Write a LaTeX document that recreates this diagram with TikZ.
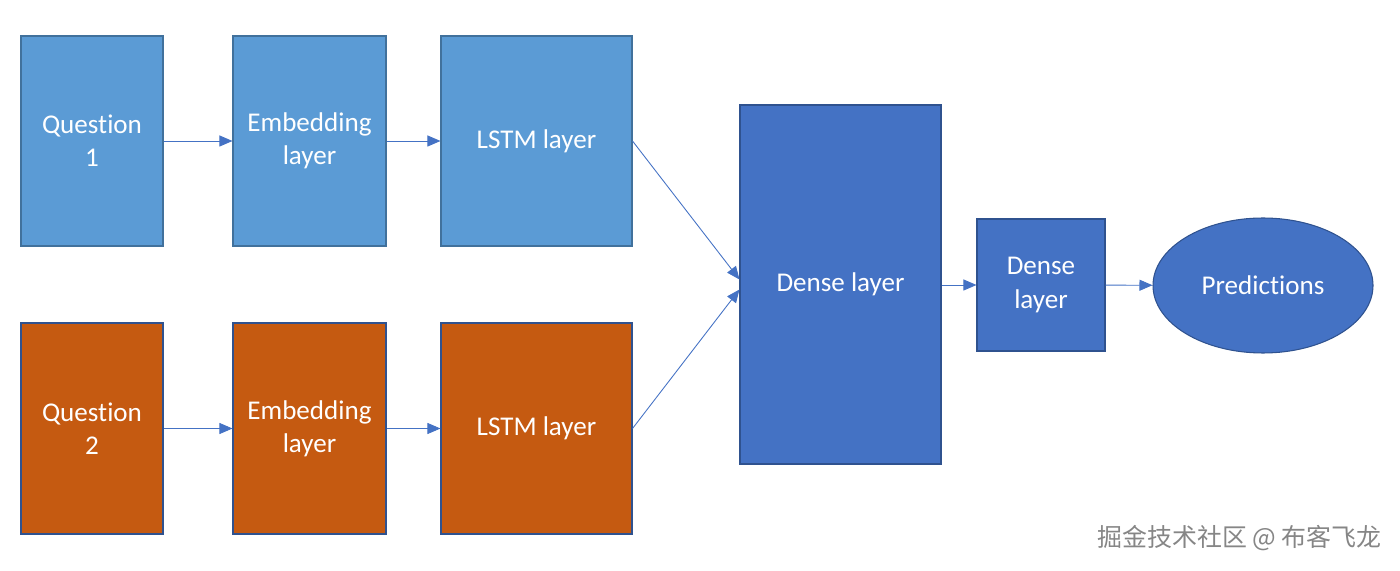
\documentclass[tikz,border=0pt]{standalone}
\usepackage{fontspec}
\setmainfont[Ligatures={NoCommon}]{Carlito}
\newfontfamily\cjk{Noto Sans CJK SC}
\usetikzlibrary{arrows.meta,shapes.geometric}

\definecolor{qblue}{HTML}{5B9BD5}
\definecolor{qorange}{HTML}{C55A11}
\definecolor{dblue}{HTML}{4472C4}
\definecolor{edgeblue}{HTML}{41719C}
\definecolor{edgedark}{HTML}{2F528F}

\tikzset{
  layer/.style={draw=edgeblue, line width=0.6pt, text=white, align=center,
    inner sep=0pt, font=\fontsize{15.4}{19}\selectfont},
  upper/.style={layer, fill=qblue},
  lower/.style={layer, fill=qorange, draw=edgedark},
  dense/.style={layer, fill=dblue, draw=edgedark},
  flow/.style={draw=dblue, line width=0.5pt, -{Triangle[length=2.6mm,width=2.2mm]}},
}

\begin{document}
\begin{tikzpicture}
  \useasboundingbox (0,0) rectangle (28,11.4);
  % question 1 branch
  \node[upper, minimum width=2.84cm, minimum height=4.2cm] (q1) at (1.84, 8.58) {Question\\1};
  \node[upper, minimum width=3.06cm, minimum height=4.2cm] (emb1) at (6.19, 8.58) {Embedding\\layer};
  \node[upper, minimum width=3.82cm, minimum height=4.2cm] (lstm1) at (10.73, 8.58) {LSTM layer};
  % question 2 branch
  \node[lower, minimum width=2.84cm, minimum height=4.22cm] (q2) at (1.84, 2.83) {Question\\2};
  \node[lower, minimum width=3.06cm, minimum height=4.22cm] (emb2) at (6.19, 2.83) {Embedding\\layer};
  \node[lower, minimum width=3.82cm, minimum height=4.22cm] (lstm2) at (10.73, 2.83) {LSTM layer};
  % merged part
  \node[dense, minimum width=4.02cm, minimum height=7.18cm] (dense1) at (16.81, 5.71) {Dense layer};
  \node[dense, minimum width=2.56cm, minimum height=2.64cm] (dense2) at (20.82, 5.70) {Dense\\layer};
  \node[dense, ellipse, minimum width=4.4cm, minimum height=2.7cm] (pred) at (25.26, 5.69) {Predictions};

  \draw[flow] (q1) -- (emb1);
  \draw[flow] (emb1) -- (lstm1);
  \draw[flow] (q2) -- (emb2);
  \draw[flow] (emb2) -- (lstm2);
  \draw[flow] (lstm1.east) -- ([yshift=1mm]dense1.west);
  \draw[flow] (lstm2.east) -- ([yshift=-1mm]dense1.west);
  \draw[flow] (dense1.east |- dense2) -- (dense2);
  \draw[flow] (dense2) -- (pred);

  \node[text=gray!95, font=\cjk\fontsize{14.2}{16}\selectfont] (mark) at (24.79, 0.64) {掘金技术社区 @ 布客飞龙};
\end{tikzpicture}
\end{document}
